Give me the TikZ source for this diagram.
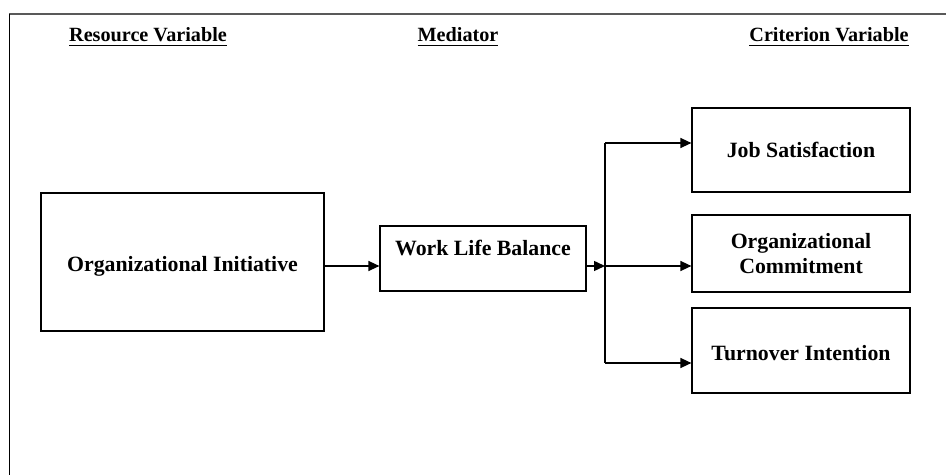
\documentclass[tikz,border=0pt]{standalone}
\usepackage{fontspec}
\setmainfont{Liberation Serif}
\usetikzlibrary{arrows.meta}

\begin{document}
\begin{tikzpicture}[x=0.5pt, y=-0.5pt, box/.style={draw, rectangle, line width=0.6pt, font=\fontsize{10.9}{12.5}\selectfont\bfseries, align=center, inner sep=0pt}, head/.style={anchor=base, font=\fontsize{10.1}{12}\selectfont\bfseries}, n/.style={-{Triangle[length=5.5pt, width=5pt]}, line width=0.7pt}]
            \useasboundingbox (0,0) rectangle (946,475);
            % frame
            \draw[line width=1.2pt, black!65] (9,14) -- (946,14);
            \draw[line width=0.6pt] (9.5,14) -- (9.5,475);
            % headings
            \node[head] (res) at (148,42) {\underline{Resource Variable}};
            \node[head] (med) at (458,42) {\underline{Mediator}};
            \node[head] (cri) at (829,42) {\underline{Criterion Variable}};
            % nodes
            \node[box, minimum width=141.5pt, minimum height=69pt, text height=11.5pt] (oi) at (182.5,262) {Organizational Initiative};
            \node[box, minimum width=103pt, minimum height=32.5pt, text depth=10.3pt] (wlb) at (483,258.5) {Work Life Balance};
            \node[box, minimum width=109pt, minimum height=42pt] (js) at (801,150) {Job Satisfaction};
            \node[box, minimum width=109pt, minimum height=38.5pt] (oc) at (801,253.5) {Organizational\\Commitment};
            \node[box, minimum width=109pt, minimum height=42.5pt, text height=10.4pt] (ti) at (801,350.5) {Turnover Intention};
            \coordinate (split) at (605,266);
            \coordinate (up) at (605,143);
            \coordinate (down) at (605,363);
            % edges
            \draw [n] (oi.east |- split) -- (wlb.west |- split);
            \draw [n] (wlb.east |- split) -- (split);
            \draw [line width=0.7pt] (up) -- (down);
            \draw [n] (up) -- (js.west |- up);
            \draw [n] (split) -- (oc.west |- split);
            \draw [n] (down) -- (ti.west |- down);
        \end{tikzpicture}
\end{document}
